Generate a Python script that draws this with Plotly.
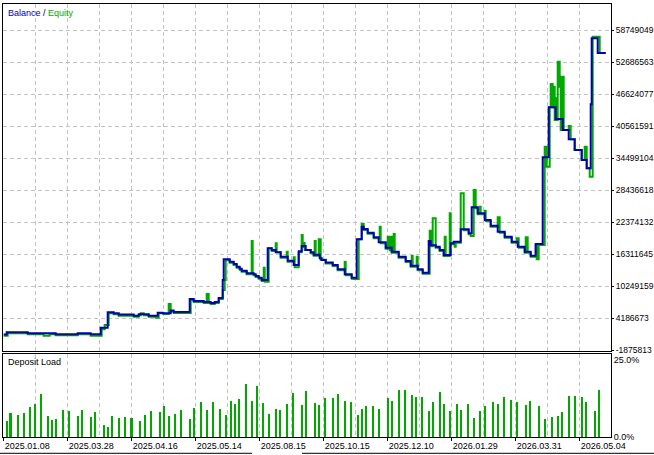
import plotly.graph_objects as go

# ---------------- data ----------------
balance_deal = [0, 3, 24, 52, 74, 87, 97, 104, 110, 115, 130, 135, 145, 154, 159, 167, 170, 186, 190, 200,
                207, 211, 215, 219, 220, 226, 230, 233, 236, 238, 243, 250, 252, 255, 258, 264, 268, 272, 277, 284,
                290, 295, 298, 302, 307, 310, 316, 318, 322, 329, 334, 341, 348, 353, 358, 360, 364, 370, 375, 382,
                388, 395, 402, 407, 414, 419, 425, 427, 432, 436, 440, 447, 450, 457, 465, 468, 474, 481, 487, 494,
                501, 508, 514, 521, 527, 532, 539, 545, 552, 559, 565, 571, 578, 583, 587, 588, 594, 602]
balance = [1061000, 1478000, 1288000, 1099000, 1288000, 1099000, 2349000, 5267000, 5077000, 4850000,
           4622000, 4888000, 4622000, 5191000, 5077000, 5608000, 5323000, 7786000, 7407000, 7218000,
           7028000, 7218000, 7976000, 11386000, 15307000, 14853000, 14417000, 13905000, 13527000, 13148000,
           12655000, 12466000, 12144000, 11822000, 11386000, 17391000, 17069000, 16634000, 15800000, 15042000,
           14228000, 16823000, 17827000, 17069000, 16634000, 16179000, 15497000, 15175000, 14701000, 14228000,
           13413000, 12466000, 11822000, 19096000, 21483000, 21048000, 20347000, 19475000, 18528000, 17505000,
           16747000, 15800000, 14985000, 14095000, 13413000, 12769000, 18774000, 17960000, 17694000, 17069000,
           16122000, 18339000, 18642000, 20991000, 20233000, 25159000, 24022000, 22753000, 21673000, 20536000,
           19589000, 18642000, 17694000, 16747000, 15989000, 18206000, 34631000, 44104000, 41887000, 39803000,
           38041000, 36014000, 34120000, 32547000, 44672000, 57176000, 54391000, 54391000]

equity_deal = [0, 4, 24, 40, 46, 52, 74, 87, 98, 101, 105, 110, 115, 130, 135, 137, 140, 145, 152, 155,
               160, 165, 167, 170, 187, 190, 200, 203, 205, 207, 211, 215, 219, 221, 222, 226, 230, 233, 236, 238,
               243, 248, 249, 250, 252, 255, 258, 260, 261, 265, 268, 272, 273, 277, 283, 284, 290, 291, 295, 298,
               299, 300, 301, 307, 310, 311, 312, 315, 317, 322, 329, 334, 341, 342, 348, 350, 355, 358, 360, 364,
               370, 376, 377, 382, 384, 386, 387, 388, 390, 391, 395, 402, 407, 408, 409, 413, 414, 419, 426, 427,
               429, 432, 436, 440, 441, 442, 446, 447, 450, 451, 452, 457, 460, 465, 467, 470, 472, 474, 476, 477,
               481, 482, 487, 494, 496, 501, 508, 513, 515, 521, 522, 524, 527, 532, 533, 535, 541, 543, 546, 547,
               549, 550, 551, 552, 553, 554, 556, 557, 558, 560, 565, 567, 571, 578, 581, 583, 586, 589, 596, 602]
equity = [830000, 1290000, 1100000, 830000, 1100000, 910000, 1100000, 830000, 2050000, 2860000,
          5080000, 4890000, 4620000, 4430000, 4700000, 5080000, 4700000, 4430000, 4240000, 5080000,
          4960000, 6840000, 5420000, 5130000, 7600000, 7220000, 7030000, 8730000, 7030000, 6840000,
          7030000, 7790000, 9500000, 11390000, 15120000, 14660000, 14230000, 13720000, 13340000, 12960000,
          12470000, 18770000, 12470000, 12280000, 11950000, 11630000, 11200000, 13720000, 11060000, 17390000,
          16880000, 18340000, 16630000, 15610000, 16750000, 14850000, 15690000, 13790000, 16640000, 19910000,
          17640000, 18400000, 17070000, 16440000, 15990000, 18770000, 15990000, 19100000, 15200000, 14520000,
          14040000, 13220000, 14800000, 12280000, 11630000, 11580000, 19100000, 22000000, 20860000, 20160000,
          19290000, 21480000, 18340000, 17320000, 19590000, 17000000, 19590000, 16560000, 20090000, 16560000,
          15610000, 14800000, 13910000, 15930000, 13910000, 15800000, 13220000, 12580000, 20730000, 17780000,
          23080000, 17510000, 16880000, 15940000, 19590000, 15940000, 24020000, 18150000, 18460000, 17690000,
          18460000, 27810000, 20800000, 20050000, 19720000, 28440000, 24970000, 23840000, 25270000, 23840000,
          24520000, 22570000, 21490000, 23260000, 20350000, 19400000, 18460000, 19290000, 17510000, 16560000,
          19480000, 16560000, 15800000, 18020000, 15310000, 18020000, 36640000, 32850000, 44100000, 48520000,
          44100000, 47990000, 41700000, 45810000, 41700000, 52740000, 47990000, 39800000, 49900000, 39800000,
          40560000, 38040000, 36010000, 34120000, 36640000, 32550000, 30960000, 57480000, 54390000, 54390000]

load_deal = [3, 7, 14, 20, 26, 31, 37, 44, 48, 52, 59, 65, 74, 78, 87, 91, 100, 104, 108, 115,
             121, 128, 136, 141, 147, 156, 160, 165, 171, 177, 186, 190, 197, 203, 209, 216, 222, 227, 231, 235,
             242, 248, 253, 259, 265, 272, 276, 283, 289, 298, 302, 311, 315, 321,
             329, 334, 341, 347, 354, 358, 362, 369, 375, 384, 388, 395, 401, 408, 412, 418, 425, 429, 436, 440,
             446, 453, 457, 464, 470, 476, 481, 489, 494, 500, 507, 513, 522, 526, 535, 541, 548, 554, 558, 565,
             571, 578, 582, 591, 595]
load_pct = [5.4, 8.0, 7.3, 8.0, 9.9, 10.9, 14.1, 7.0, 5.7, 6.0, 8.9, 8.6, 7.0, 8.9, 6.7, 8.3, 4.1, 3.4, 7.0, 6.3,
            6.7, 6.3, 5.4, 7.3, 8.6, 8.3, 10.2, 7.0, 7.7, 8.9, 6.0, 9.6, 11.5, 8.9, 11.5, 9.3, 7.3, 11.9, 10.9, 12.5,
            17.4, 11.9, 16.7, 11.2, 7.7, 9.3, 8.9, 10.9, 14.5, 10.6, 15.1, 11.2, 10.6, 12.8,
            12.8, 14.1, 11.9, 11.5, 7.3, 9.3, 10.2, 10.2, 9.3, 12.8, 11.9, 15.4, 15.4, 13.8, 13.1, 13.1, 8.6, 11.5,
            14.8, 10.9, 8.6, 10.9, 8.9, 10.9, 6.3, 8.6, 10.2, 11.5, 10.9, 13.1, 12.2, 11.5, 10.6, 11.9, 10.2, 6.0,
            6.7, 7.0, 8.3, 13.5, 13.5, 13.1, 11.5, 8.6, 15.4]

y_ticks = [-1875813, 4186673, 10249159, 16311645, 22374132, 28436618, 34499104,
           40561591, 46624077, 52686563, 58749049]
load_ticks = [0, 25]
load_tick_text = ["0.0%", "25.0%"]
date_deals = [0, 64, 128, 192, 256, 320, 384, 448, 512, 576]
date_labels = ["2025.01.08", "2025.03.28", "2025.04.16", "2025.05.14", "2025.08.15",
               "2025.10.15", "2025.12.10", "2026.01.29", "2026.03.31", "2026.05.04"]

# ---------------- style ----------------
BLUE = "#0000b0"
GREEN = "#00a800"
GRID = "#c4c4c4"
FONT = "Liberation Sans, Arial, sans-serif"

W, H = 654, 455
ML, MR, MT, MB = 3, 43, 4, 18
plot_h = H - MT - MB
bottom_px = H - MB
main_dom = [(bottom_px - 350.5) / plot_h, 1.0]
sub_dom = [0.0, (bottom_px - 353.5) / plot_h]
XR = [-0.7, 607.3]

fig = go.Figure()
fig.add_trace(go.Scatter(x=equity_deal, y=equity, mode="lines",
                         line=dict(color=GREEN, width=2, shape="hv"),
                         xaxis="x", yaxis="y", hoverinfo="skip"))
fig.add_trace(go.Scatter(x=balance_deal, y=balance, mode="lines",
                         line=dict(color=BLUE, width=2, shape="hv"),
                         xaxis="x", yaxis="y", hoverinfo="skip"))
fig.add_trace(go.Bar(x=load_deal, y=load_pct, width=2,
                     marker=dict(color=GREEN, line=dict(width=0)),
                     xaxis="x2", yaxis="y2", hoverinfo="skip"))

grid_kw = dict(showgrid=True, gridcolor=GRID, griddash="4px,3px", gridwidth=1)
line_kw = dict(showline=True, mirror=True, linecolor="black", linewidth=1, zeroline=False, automargin=False)

fig.update_layout(
    width=W, height=H,
    margin=dict(l=ML, r=MR, t=MT, b=MB, autoexpand=False),
    paper_bgcolor="white", plot_bgcolor="white",
    showlegend=False,
    bargap=0,
    font=dict(family=FONT, size=9, color="black"),
    xaxis=dict(domain=[0, 1], anchor="y", range=XR, tickmode="linear", tick0=0, dtick=32,
               showticklabels=False, ticks="", **grid_kw, **line_kw),
    yaxis=dict(domain=main_dom, anchor="x", range=[-1970540, 63674900], side="right",
               tickmode="array", tickvals=y_ticks, ticktext=[str(v) for v in y_ticks],
               ticks="outside", ticklen=2, tickcolor="black",
               tickfont=dict(family=FONT, size=8.5, color="black"),
               **grid_kw, **line_kw),
    xaxis2=dict(domain=[0, 1], anchor="y2", matches="x", range=XR,
                tickmode="array", tickvals=date_deals, ticktext=date_labels,
                ticks="outside", ticklen=3, tickcolor="black",
                ticklabelposition="outside right",
                tickfont=dict(family=FONT, size=9, color="black"),
                minor=dict(tickmode="linear", tick0=0, dtick=32, showgrid=True,
                           gridcolor=GRID, griddash="4px,3px", ticks=""),
                **grid_kw, **line_kw),
    yaxis2=dict(domain=sub_dom, anchor="x2", range=[0, 27], side="right",
                tickmode="array", tickvals=load_ticks, ticktext=load_tick_text,
                ticks="", showgrid=False,
                tickfont=dict(family=FONT, size=9, color="black"),
                **line_kw),
)

fig.add_annotation(xref="paper", yref="paper", x=(6.0 - ML) / 608, y=(bottom_px - 13.3) / plot_h,
                   xanchor="left", yanchor="middle", showarrow=False,
                   text=f'<span style="color:{BLUE}">Balance</span> / <span style="color:{GREEN}">Equity</span>',
                   font=dict(family=FONT, size=9))
fig.add_annotation(xref="paper", yref="paper", x=(6.0 - ML) / 608, y=(bottom_px - 361.7) / plot_h,
                   xanchor="left", yanchor="middle", showarrow=False,
                   text="Deposit Load", font=dict(family=FONT, size=9, color="black"))

ybot = (bottom_px - 453.3) / plot_h
fig.add_shape(type="line", xref="paper", yref="paper", x0=-ML / 608, x1=(252 - ML) / 608, y0=ybot, y1=ybot,
              line=dict(color="black", width=1))
fig.add_shape(type="line", xref="paper", yref="paper", x0=(302 - ML) / 608, x1=(W - ML) / 608, y0=ybot, y1=ybot,
              line=dict(color="black", width=1))

fig.write_html("out.html", config={"displayModeBar": False},
               post_script="document.body.style.margin='0px';document.body.style.overflow='hidden';")
